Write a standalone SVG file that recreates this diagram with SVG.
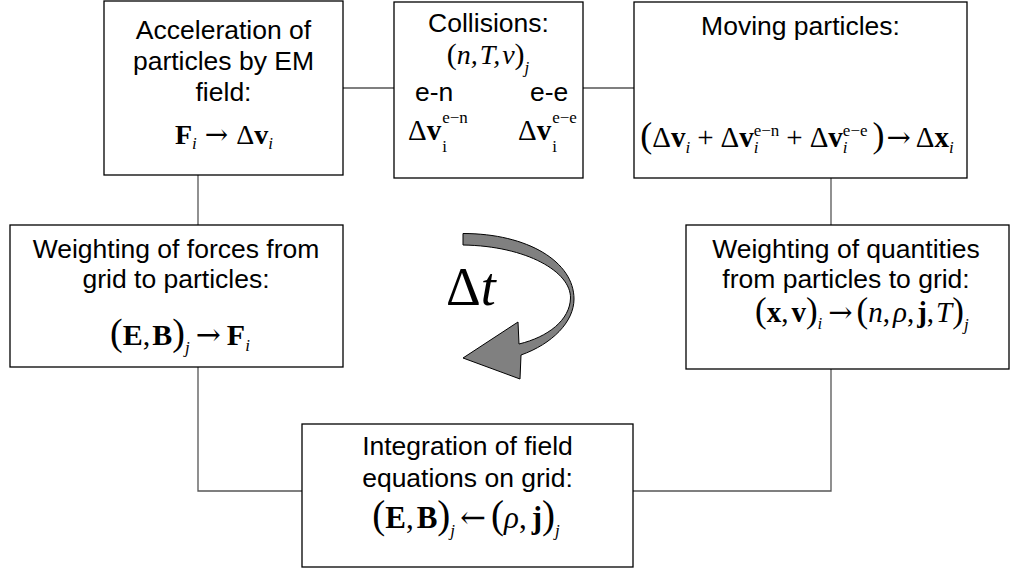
<svg xmlns="http://www.w3.org/2000/svg" width="1012" height="569" viewBox="0 0 1012 569">
<style>
.box{fill:#fff;stroke:#000;stroke-width:1.3}
.conn{fill:none;stroke:#555;stroke-width:1.3}
.lbl{font-family:"Liberation Sans",Arial,sans-serif;font-size:26.5px;fill:#000;text-anchor:middle}
.m{font-family:"Liberation Serif","Times New Roman",serif;font-size:28px;fill:#000}
.b{font-weight:bold}
.it{font-style:italic}
.sb{font-size:17px;font-style:italic}
.su{font-size:17px;font-style:normal}
.sp{font-size:17px;font-style:normal}
.p{font-size:36px;font-style:normal;font-weight:normal}
.ar{font-family:"DejaVu Serif",serif;font-style:normal;font-weight:normal}
</style>
<rect width="1012" height="569" fill="#fff"/>
<g id="connectors">
<line class="conn" x1="343" y1="88" x2="394" y2="88"/>
<line class="conn" x1="583" y1="88" x2="634" y2="88"/>
<line class="conn" x1="198" y1="175" x2="198" y2="225"/>
<line class="conn" x1="831" y1="178" x2="831" y2="225"/>
<polyline class="conn" points="198,367 198,491 302,491"/>
<polyline class="conn" points="831,369 831,491 633,491"/>
</g>
<g id="accel">
<rect class="box" x="104" y="1" width="239" height="174"/>
<text class="lbl" x="223.5" y="39">Acceleration of</text>
<text class="lbl" x="223.5" y="70">particles by EM</text>
<text class="lbl" x="223.5" y="101">field:</text>
<text class="m" x="224" y="144" text-anchor="middle"><tspan class="b">F</tspan><tspan class="sb" dy="5">i</tspan><tspan class="ar" dy="-5" dx="8">→</tspan><tspan dx="8">Δ</tspan><tspan class="b">v</tspan><tspan class="sb" dy="5">i</tspan></text>
</g>
<g id="collisions">
<rect class="box" x="394" y="2" width="189" height="176"/>
<text class="lbl" x="488.5" y="32">Collisions:</text>
<text class="m it" x="488" y="64" text-anchor="middle"><tspan class="p" style="font-size:30px">(</tspan>n,<tspan dx="2">T</tspan>,<tspan dx="2">ν</tspan><tspan class="p" style="font-size:30px">)</tspan><tspan class="sb" dy="9">j</tspan></text>
<text class="lbl" x="415" y="101" style="text-anchor:start">e-n</text>
<text class="lbl" x="530" y="101" style="text-anchor:start">e-e</text>
<text class="m" x="408" y="140" style="font-size:29px">Δ<tspan class="b">v</tspan><tspan class="su" dx="1" dy="12">i</tspan><tspan class="sp" dx="-4.7" dy="-29">e−n</tspan></text>
<text class="m" x="518" y="140" style="font-size:29px">Δ<tspan class="b">v</tspan><tspan class="su" dx="1" dy="12">i</tspan><tspan class="sp" dx="-4.7" dy="-29">e−e</tspan></text>
</g>
<g id="moving">
<rect class="box" x="634" y="2" width="333" height="176"/>
<text class="lbl" x="800.5" y="35">Moving particles:</text>
<text class="m" x="797" y="147" text-anchor="middle" style="font-size:29px"><tspan class="p">(</tspan>Δ<tspan class="b">v</tspan><tspan class="sb" dy="6">i</tspan><tspan dy="-6" dx="7">+</tspan><tspan dx="7">Δ</tspan><tspan class="b">v</tspan><tspan class="sb" dy="6">i</tspan><tspan class="sp" dx="-4.7" dy="-17">e−n</tspan><tspan dy="11" dx="7">+</tspan><tspan dx="7">Δ</tspan><tspan class="b">v</tspan><tspan class="sb" dy="6">i</tspan><tspan class="sp" dx="-4.7" dy="-17">e−e</tspan><tspan class="p" dy="11" dx="5">)</tspan><tspan class="ar" dx="2">→</tspan><tspan dx="5">Δ</tspan><tspan class="b">x</tspan><tspan class="sb" dy="6">i</tspan></text>
</g>
<g id="weight-forces">
<rect class="box" x="10" y="225" width="333" height="142"/>
<text class="lbl" x="176" y="258">Weighting of forces from</text>
<text class="lbl" x="176" y="288">grid to particles:</text>
<text class="m" x="180" y="345" text-anchor="middle" style="font-size:30px"><tspan class="p" style="font-size:38px">(</tspan><tspan class="b">E</tspan>,<tspan class="b" dx="2">B</tspan><tspan class="p" style="font-size:38px">)</tspan><tspan class="sb" dy="8">j</tspan><tspan class="ar" dy="-8" dx="6">→</tspan><tspan class="b" dx="6">F</tspan><tspan class="sb" dy="6">i</tspan></text>
</g>
<g id="weight-quantities">
<rect class="box" x="686" y="225" width="323" height="144"/>
<text class="lbl" x="846" y="258">Weighting of quantities</text>
<text class="lbl" x="846" y="288">from particles to grid:</text>
<text class="m" x="755" y="322" style="font-size:29px"><tspan class="p" style="font-size:35px">(</tspan><tspan class="b">x</tspan>,<tspan class="b" dx="3">v</tspan><tspan class="p" style="font-size:35px">)</tspan><tspan class="sb" dy="7">i</tspan><tspan class="ar" dy="-7" dx="6">→</tspan><tspan class="p" style="font-size:35px" dx="4">(</tspan><tspan class="it">n</tspan>,<tspan class="it" dx="3">ρ</tspan>,<tspan class="b" dx="3">j</tspan>,<tspan class="it" dx="2">T</tspan><tspan class="p" style="font-size:35px">)</tspan><tspan class="sb" dy="8">j</tspan></text>
</g>
<g id="integration">
<rect class="box" x="302" y="424" width="331" height="143"/>
<text class="lbl" x="467.5" y="455">Integration of field</text>
<text class="lbl" x="467.5" y="487">equations on grid:</text>
<text class="m" x="466" y="528" text-anchor="middle" style="font-size:31px"><tspan class="p" style="font-size:39px">(</tspan><tspan class="b">E</tspan>,<tspan class="b" dx="3">B</tspan><tspan class="p" style="font-size:39px">)</tspan><tspan class="sb" dy="8">j</tspan><tspan class="ar" dy="-8" dx="5">←</tspan><tspan class="p" style="font-size:39px" dx="5">(</tspan><tspan class="it">ρ</tspan>,<tspan class="b" dx="5">j</tspan><tspan class="p" style="font-size:39px">)</tspan><tspan class="sb" dy="8">j</tspan></text>
</g>
<g id="timestep">
<path d="M463,233.5 C528,233.5 574,262 574,299 C574,322 552,344 521,355 L520,379 L463,358 L518,322 L519,344 C548,337 570,320 570.5,298 C571,272 527,246 463,245 Z" fill="#808080" stroke="#000" stroke-width="1"/>
<text class="m" x="446" y="305" style="font-size:54px">Δ<tspan class="it">t</tspan></text>
</g>
</svg>
